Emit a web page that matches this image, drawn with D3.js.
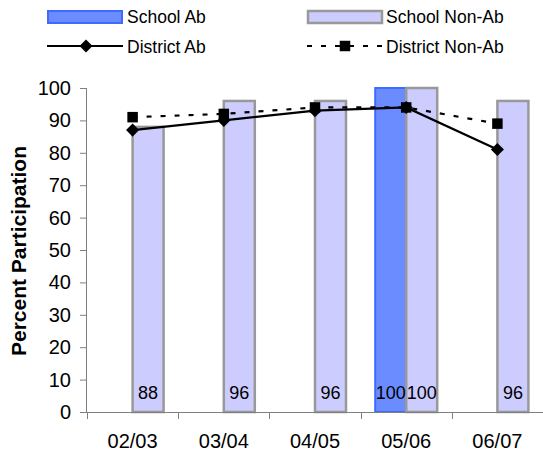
<!DOCTYPE html>
<html><head><meta charset="utf-8">
<script src="https://cdn.jsdelivr.net/npm/d3@7"></script>
<style>body{margin:0;background:#fff}text{font-family:"Liberation Sans",Arial,sans-serif}</style>
</head><body>
<svg id="c" width="543" height="456"></svg>
<script>
const categories = ["02/03","03/04","04/05","05/06","06/07"];
const schoolAb = [null,null,null,100,null];
const schoolNonAb = [88,96,96,100,96];
const districtAb = [87,90,93,94,81];
const districtNonAb = [91,92,94,94,89];
const yTicks = [0,10,20,30,40,50,60,70,80,90,100];

const svg = d3.select("#c");
const L=87, R=543, T=88, B=412;
const x = d3.scaleBand().domain(categories).range([L,R]);
const y = d3.scaleLinear().domain([0,100]).range([B,T]);
const bw = 31;
const cx = d => x(d)+x.bandwidth()/2;

const abFill="#6b8cff", abStroke="#3d6bff", naFill="#ccccff", naStroke="#999999";

// bars
const g = svg.append("g");
categories.forEach((c,i)=>{
  if(schoolAb[i]!=null){
    g.append("rect").attr("x",cx(c)-bw).attr("y",y(schoolAb[i])).attr("width",bw).attr("height",B-y(schoolAb[i]))
     .attr("fill",abFill).attr("stroke",abStroke).attr("stroke-width",2);
  }
  if(schoolNonAb[i]!=null){
    g.append("rect").attr("x",cx(c)).attr("y",y(schoolNonAb[i])).attr("width",bw).attr("height",B-y(schoolNonAb[i]))
     .attr("fill",naFill).attr("stroke",naStroke).attr("stroke-width",2.5);
  }
});
categories.forEach((c,i)=>{
  if(schoolAb[i]!=null)
    g.append("text").attr("x",cx(c)-bw/2).attr("y",399).attr("text-anchor","middle").attr("font-size",18).text(schoolAb[i]);
  if(schoolNonAb[i]!=null)
    g.append("text").attr("x",cx(c)+bw/2).attr("y",399).attr("text-anchor","middle").attr("font-size",18).text(schoolNonAb[i]);
});

// axes
const ya = svg.append("g").attr("transform",`translate(${L},0)`)
  .call(d3.axisLeft(y).tickValues(yTicks).tickSize(7).tickPadding(9));
ya.select(".domain").attr("stroke","#808080").attr("d",`M-0.5,${T}V${B}`);
ya.selectAll(".tick line").attr("stroke","#808080");
ya.selectAll(".tick text").attr("font-size",20).attr("fill","#000").attr("font-family","Liberation Sans, Arial, sans-serif");

const xa = svg.append("g").attr("transform",`translate(0,${B})`);
xa.append("line").attr("x1",L).attr("x2",R).attr("y1",0.5).attr("y2",0.5).attr("stroke","#808080");
const bounds = categories.map(c=>x(c)).concat([x(categories[categories.length-1])+x.bandwidth()]);
bounds.forEach(b=>xa.append("line").attr("x1",Math.round(b)+0.5).attr("x2",Math.round(b)+0.5).attr("y1",0).attr("y2",7).attr("stroke","#808080"));
categories.forEach(c=>xa.append("text").attr("x",cx(c)).attr("y",36).attr("text-anchor","middle").attr("font-size",20).text(c));

// lines
const line = d3.line().x((d,i)=>cx(categories[i])).y(d=>y(d));
svg.append("path").datum(districtNonAb).attr("d",line).attr("fill","none").attr("stroke","#000").attr("stroke-width",2.2).attr("stroke-dasharray","5,9");
svg.append("path").datum(districtAb).attr("d",line).attr("fill","none").attr("stroke","#000").attr("stroke-width",2.2);
const sq = d3.symbol().type(d3.symbolSquare).size(110);
const dm = d3.symbol().type(d3.symbolSquare).size(85);
districtNonAb.forEach((v,i)=>svg.append("path").attr("d",sq()).attr("transform",`translate(${cx(categories[i])},${y(v)})`).attr("fill","#000"));
districtAb.forEach((v,i)=>svg.append("path").attr("d",dm()).attr("transform",`translate(${cx(categories[i])},${y(v)}) rotate(45)`).attr("fill","#000"));

// y title
svg.append("text").attr("transform","translate(26,251) rotate(-90)").attr("text-anchor","middle")
  .attr("font-size",21).attr("font-weight","bold").text("Percent Participation");

// legend
const lg = svg.append("g");
lg.append("rect").attr("x",48).attr("y",11).attr("width",74).attr("height",12).attr("fill",abFill).attr("stroke",abStroke).attr("stroke-width",2);
lg.append("text").attr("x",127).attr("y",23).attr("font-size",17.5).text("School Ab");
lg.append("rect").attr("x",308).attr("y",11).attr("width",74).attr("height",12).attr("fill",naFill).attr("stroke",naStroke).attr("stroke-width",2.5);
lg.append("text").attr("x",386).attr("y",23).attr("font-size",17.5).text("School Non-Ab");
lg.append("line").attr("x1",47).attr("x2",123).attr("y1",46).attr("y2",46).attr("stroke","#000").attr("stroke-width",2.2);
lg.append("path").attr("d",dm()).attr("transform","translate(86,46) rotate(45)");
lg.append("text").attr("x",127).attr("y",52.5).attr("font-size",17.5).text("District Ab");
lg.append("line").attr("x1",307).attr("x2",383).attr("y1",46).attr("y2",46).attr("stroke","#000").attr("stroke-width",2.2).attr("stroke-dasharray","5,9");
lg.append("path").attr("d",sq()).attr("transform","translate(345,46)");
lg.append("text").attr("x",386).attr("y",52.5).attr("font-size",17.5).text("District Non-Ab");
</script>
</body></html>
